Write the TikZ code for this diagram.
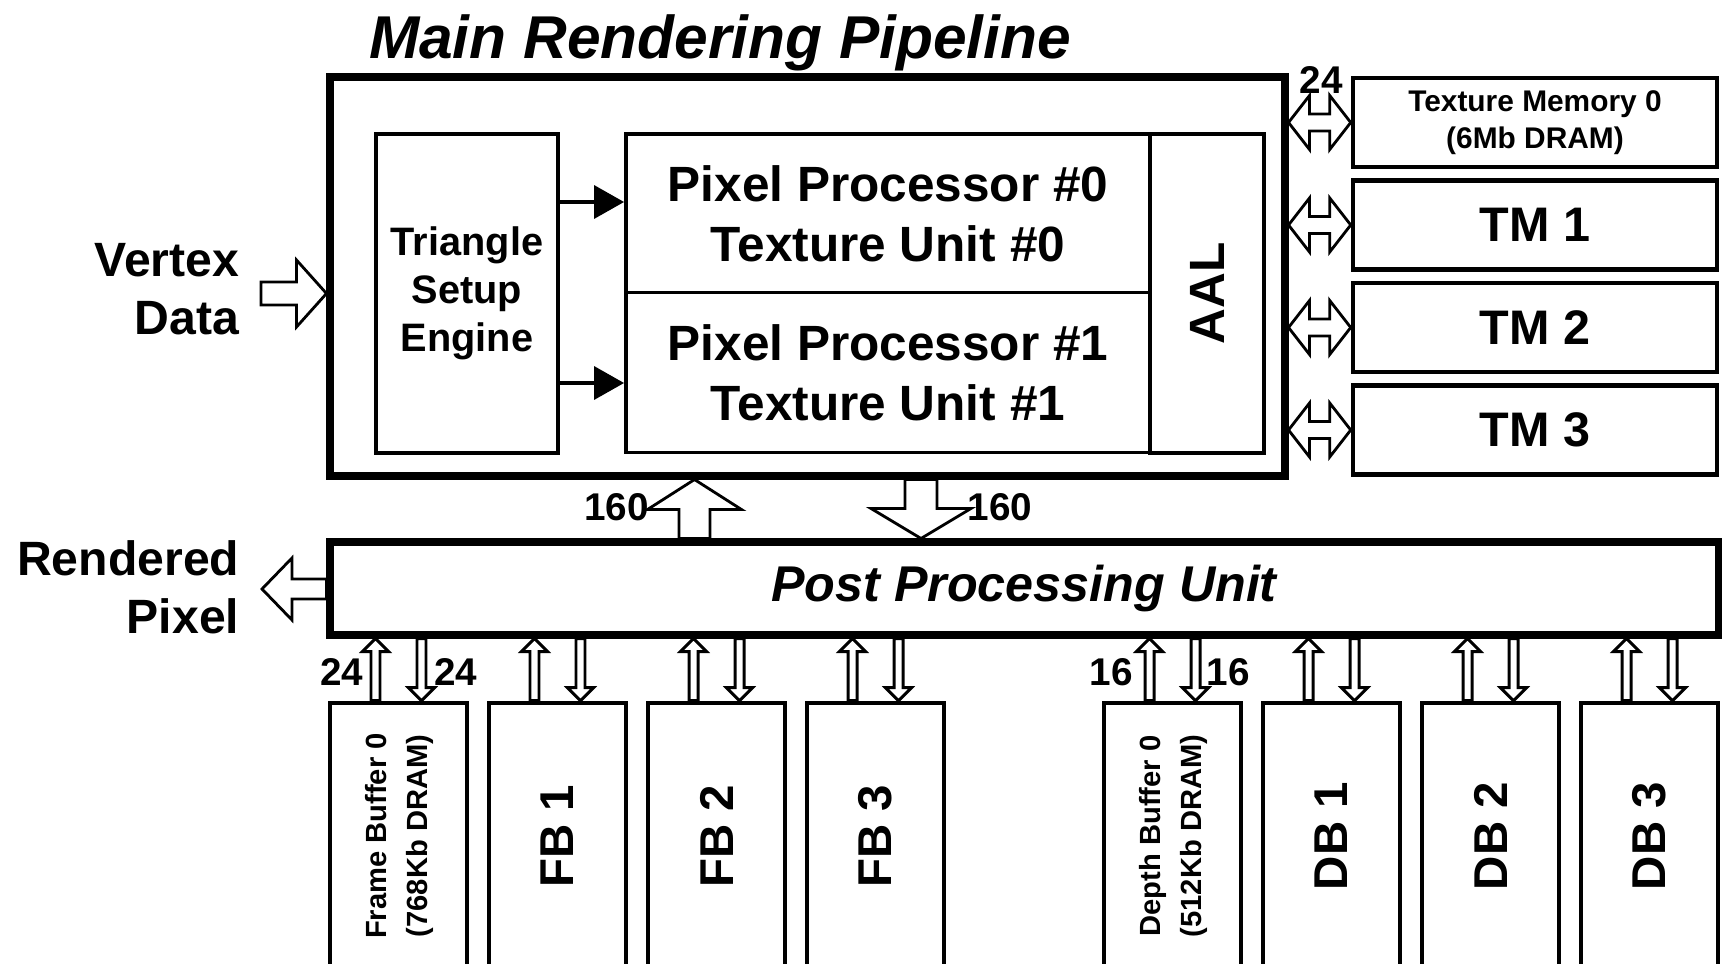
\documentclass[tikz,border=0pt]{standalone}
\usepackage{fontspec}
\setmainfont{Liberation Sans}
\usepackage{graphicx}
\usetikzlibrary{arrows.meta,positioning,calc}
\tikzset{
  bigbox/.style={draw, line width=2pt, fill=white, inner sep=0pt},
  unitbox/.style={draw, line width=1.1pt, fill=white, inner sep=0pt, align=center,
                  font=\fontsize{14.1}{17}\selectfont\bfseries},
  tmbox/.style={draw, line width=1.3pt, fill=white, inner sep=0pt, align=center,
                minimum width=3.64cm, minimum height=0.89cm,
                font=\fontsize{13.8}{17}\selectfont\bfseries},
  bufbox/.style={draw, line width=1.3pt, fill=white, inner sep=0pt,
                 minimum width=1.37cm, minimum height=2.66cm,
                 font=\fontsize{13.5}{16}\selectfont\bfseries},
  iolabel/.style={font=\fontsize{13.7}{16.5}\selectfont\bfseries, align=right,
                  anchor=east, inner sep=0pt},
  buswidth/.style={font=\fontsize{11}{13}\selectfont\bfseries, inner sep=0pt},
  hollow/.style={draw, line width=0.8pt, fill=white, line join=miter},
  thinhollow/.style={hollow, line width=0.85pt},
  tsarrow/.style={line width=1pt, -{Triangle[length=0.30cm, width=0.33cm]}},
}
% hollow block arrow: [style]{tail}{tip}{half shaft}{half head}{head length}
\newcommand{\hollowarrow}[6][hollow]{%
  \coordinate (hb) at ($(#3)!#6!(#2)$);
  \draw[#1] ($(#2)!#4!90:(#3)$) -- ($(hb)!#4!90:(#3)$) -- ($(hb)!#5!90:(#3)$) -- (#3)
    -- ($(hb)!#5!-90:(#3)$) -- ($(hb)!#4!-90:(#3)$) -- ($(#2)!#4!-90:(#3)$) -- cycle;
}
% hollow arrow with a head at both ends
\newcommand{\doublehollow}[5]{%
  \coordinate (ha) at ($(#1)!#5!(#2)$);
  \coordinate (hb) at ($(#2)!#5!(#1)$);
  \draw[hollow] (#1) -- ($(ha)!#4!90:(#2)$) -- ($(ha)!#3!90:(#2)$)
    -- ($(hb)!#3!-90:(#1)$) -- ($(hb)!#4!-90:(#1)$) -- (#2)
    -- ($(hb)!#4!90:(#1)$) -- ($(hb)!#3!90:(#1)$)
    -- ($(ha)!#3!-90:(#2)$) -- ($(ha)!#4!-90:(#2)$) -- cycle;
}

\begin{document}
\begin{tikzpicture}
\useasboundingbox (0,0) rectangle (17.23,-9.64);

% Title
\node[font=\fontsize{17.2}{20}\selectfont\bfseries\itshape, anchor=base] (title) at (7.20,-0.58) {Main Rendering Pipeline};

% Main rendering pipeline
\node[bigbox, minimum width=9.55cm, minimum height=3.99cm] (main) at (8.075,-2.765) {};
\node[unitbox, minimum width=1.82cm, minimum height=3.19cm,
      font=\fontsize{11.3}{13.7}\selectfont\bfseries] (tse) at (4.67,-2.935) {Triangle\\Setup\\Engine};
\node[unitbox, minimum width=5.24cm, minimum height=1.59cm] (pp0) at (8.88,-2.135) {Pixel Processor \#0\\Texture Unit \#0};
\node[unitbox, minimum width=5.24cm, minimum height=1.60cm] (pp1) at (8.88,-3.725) {Pixel Processor \#1\\Texture Unit \#1};
\node[unitbox, minimum width=1.14cm, minimum height=3.19cm] (aal) at (12.07,-2.935) {\rotatebox{90}{AAL}};

% Texture memories
\node[tmbox, font=\fontsize{8.5}{10.5}\selectfont\bfseries] (tm0) at (15.35,-1.225) {Texture Memory 0\\(6Mb DRAM)};
\foreach \i/\y in {1/-2.25, 2/-3.275, 3/-4.30}
  \node[tmbox] (tm\i) at (15.35,\y) {TM \i};

% Post processing unit
\node[bigbox, minimum width=13.88cm, minimum height=0.93cm,
      font=\fontsize{14.3}{17}\selectfont\bfseries\itshape] (ppu) at (10.24,-5.885) {Post Processing Unit};

% Frame and depth buffers
\node[bufbox] (fb0) at (3.985,-8.36) {\fontsize{8.3}{11.7}\selectfont\rotatebox{90}{\begin{tabular}{@{}c@{}}Frame Buffer 0\\(768Kb DRAM)\end{tabular}}};
\node[bufbox] (db0) at (11.725,-8.36) {\fontsize{8.3}{11.7}\selectfont\rotatebox{90}{\begin{tabular}{@{}c@{}}Depth Buffer 0\\(512Kb DRAM)\end{tabular}}};
\foreach \i in {1,2,3} {
  \node[bufbox] (fb\i) at ({3.985+1.59*\i},-8.36) {\rotatebox{90}{FB \i}};
  \node[bufbox] (db\i) at ({11.725+1.59*\i},-8.36) {\rotatebox{90}{DB \i}};
}

% Vertex data in, rendered pixel out
\coordinate (vtail) at (2.61,-2.935);
\coordinate (vtip) at (main.west |- vtail);
\hollowarrow{vtail}{vtip}{0.115cm}{0.335cm}{0.30cm}
\node[iolabel] (vertex) at (2.40,-2.89) {Vertex\\Data};

\coordinate (rtip) at (2.62,-5.89);
\coordinate (rtail) at (ppu.west |- rtip);
\hollowarrow{rtail}{rtip}{0.10cm}{0.31cm}{0.30cm}
\node[iolabel] (rendered) at (2.40,-5.87) {Rendered\\Pixel};

% Triangle setup to pixel processors
\coordinate (s0) at (0,-2.02);
\coordinate (s1) at (0,-3.83);
\draw[tsarrow] (tse.east |- s0) -- (pp0.west |- s0);
\draw[tsarrow] (tse.east |- s1) -- (pp1.west |- s1);

% 160-bit buses
\coordinate (utail) at (ppu.north -| 6.945,0);
\coordinate (utip) at (main.south -| utail);
\hollowarrow{utail}{utip}{0.155cm}{0.47cm}{0.30cm}
\coordinate (dtail) at (main.south -| 9.21,0);
\coordinate (dtip) at (ppu.north -| dtail);
\hollowarrow{dtail}{dtip}{0.16cm}{0.50cm}{0.30cm}
\node[buswidth] (w160a) at (6.165,-5.07) {160};
\node[buswidth] (w160b) at (10.00,-5.07) {160};

% Texture memory buses
\foreach \i in {0,...,3} {
  \coordinate (tmbus\i) at (main.east |- tm\i.west);
  \doublehollow{tmbus\i}{tm\i.west}{0.085cm}{0.27cm}{0.21cm}
}
\node[buswidth] (w24t) at (13.21,-0.80) {24};

% Frame and depth buffer buses
\foreach \b in {fb0,fb1,fb2,fb3,db0,db1,db2,db3} {
  \coordinate (\b-u) at ($(\b.north)+(-0.23,0)$);
  \coordinate (\b-d) at ($(\b.north)+(0.23,0)$);
  \coordinate (\b-ut) at (ppu.south -| \b-u);
  \coordinate (\b-dt) at (ppu.south -| \b-d);
  \hollowarrow[thinhollow]{\b-u}{\b-ut}{0.045cm}{0.13cm}{0.13cm}
  \hollowarrow[thinhollow]{\b-dt}{\b-d}{0.045cm}{0.13cm}{0.13cm}
}
\node[buswidth] (w24a) at (3.42,-6.72) {24};
\node[buswidth] (w24b) at (4.56,-6.72) {24};
\node[buswidth] (w16a) at (11.11,-6.72) {16};
\node[buswidth] (w16b) at (12.28,-6.72) {16};

\end{tikzpicture}
\end{document}
